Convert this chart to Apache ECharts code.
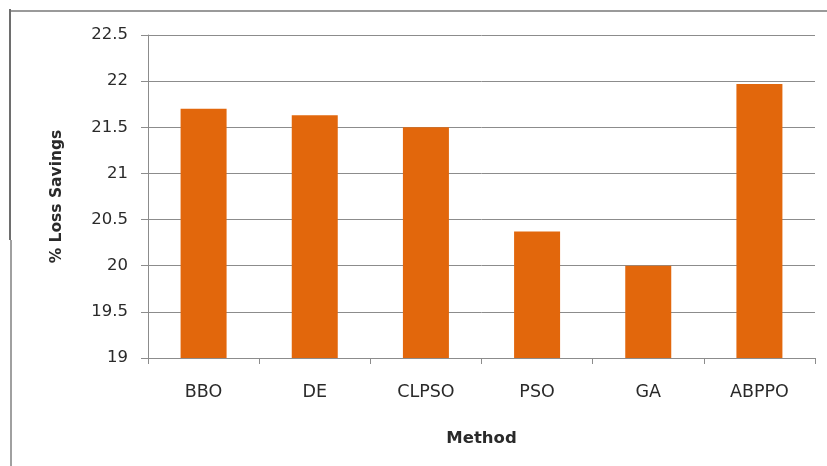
<!DOCTYPE html>
<html>
<head>
<meta charset="utf-8">
<script src="https://cdn.jsdelivr.net/npm/echarts@6/dist/echarts.min.js"></script>
<style>
  html, body { margin: 0; padding: 0; background: #fff; }
  #chart { width: 827px; height: 466px; }
</style>
</head>
<body>
<div id="chart"></div>
<script>
// Loss savings per optimisation method
const methods = ['BBO', 'DE', 'CLPSO', 'PSO', 'GA', 'ABPPO'];
const lossSavings = [21.70, 21.63, 21.50, 20.37, 20.00, 21.97];
const yMin = 19;
const yMax = 22.5;
const yStep = 0.5;

const font = '"DejaVu Sans", "Open Sans", sans-serif';
const textColor = '#2a2a2a';
const axisColor = '#8c8c8c';
const chart = echarts.init(document.getElementById('chart'), null, { renderer: 'canvas' });

chart.setOption({
  backgroundColor: '#ffffff',
  animation: false,
  grid: { left: 148, right: 12, top: 35, bottom: 108, containLabel: false },
  xAxis: {
    type: 'category',
    data: methods,
    name: 'Method',
    nameLocation: 'middle',
    nameGap: 72,
    nameTextStyle: { fontFamily: font, fontSize: 16.5, fontWeight: 'bold', color: textColor },
    axisLine: { show: true, lineStyle: { color: axisColor, width: 1 } },
    axisTick: { show: true, alignWithLabel: false, length: 6, lineStyle: { color: axisColor } },
    axisLabel: { margin: 25, fontFamily: font, fontSize: 17.5, color: textColor }
  },
  yAxis: {
    type: 'value',
    min: yMin,
    max: yMax,
    interval: yStep,
    name: '% Loss Savings',
    nameLocation: 'middle',
    nameGap: 83,
    nameRotate: 90,
    nameTextStyle: { fontFamily: font, fontSize: 15.5, fontWeight: 'bold', color: textColor },
    axisLine: { show: true, lineStyle: { color: axisColor, width: 1 } },
    axisTick: { show: true, length: 7, lineStyle: { color: axisColor } },
    axisLabel: { margin: 20, fontFamily: font, fontSize: 16.5, color: textColor },
    splitLine: { show: true, lineStyle: { color: axisColor, width: 1 } }
  },
  series: [{
    type: 'bar',
    data: lossSavings,
    barWidth: 46,
    itemStyle: { color: '#E2670C' }
  }],
  graphic: [
    // outer frame: top edge and left edge
    { type: 'line', shape: { x1: 10, y1: 11, x2: 827, y2: 11 }, style: { stroke: '#9a9a9a', lineWidth: 2 } },
    { type: 'line', shape: { x1: 10, y1: 9, x2: 10, y2: 240 }, style: { stroke: '#6e6e6e', lineWidth: 2 } },
    { type: 'line', shape: { x1: 11, y1: 240, x2: 11, y2: 466 }, style: { stroke: '#a0a0a0', lineWidth: 2 } }
  ]
});
</script>
</body>
</html>
